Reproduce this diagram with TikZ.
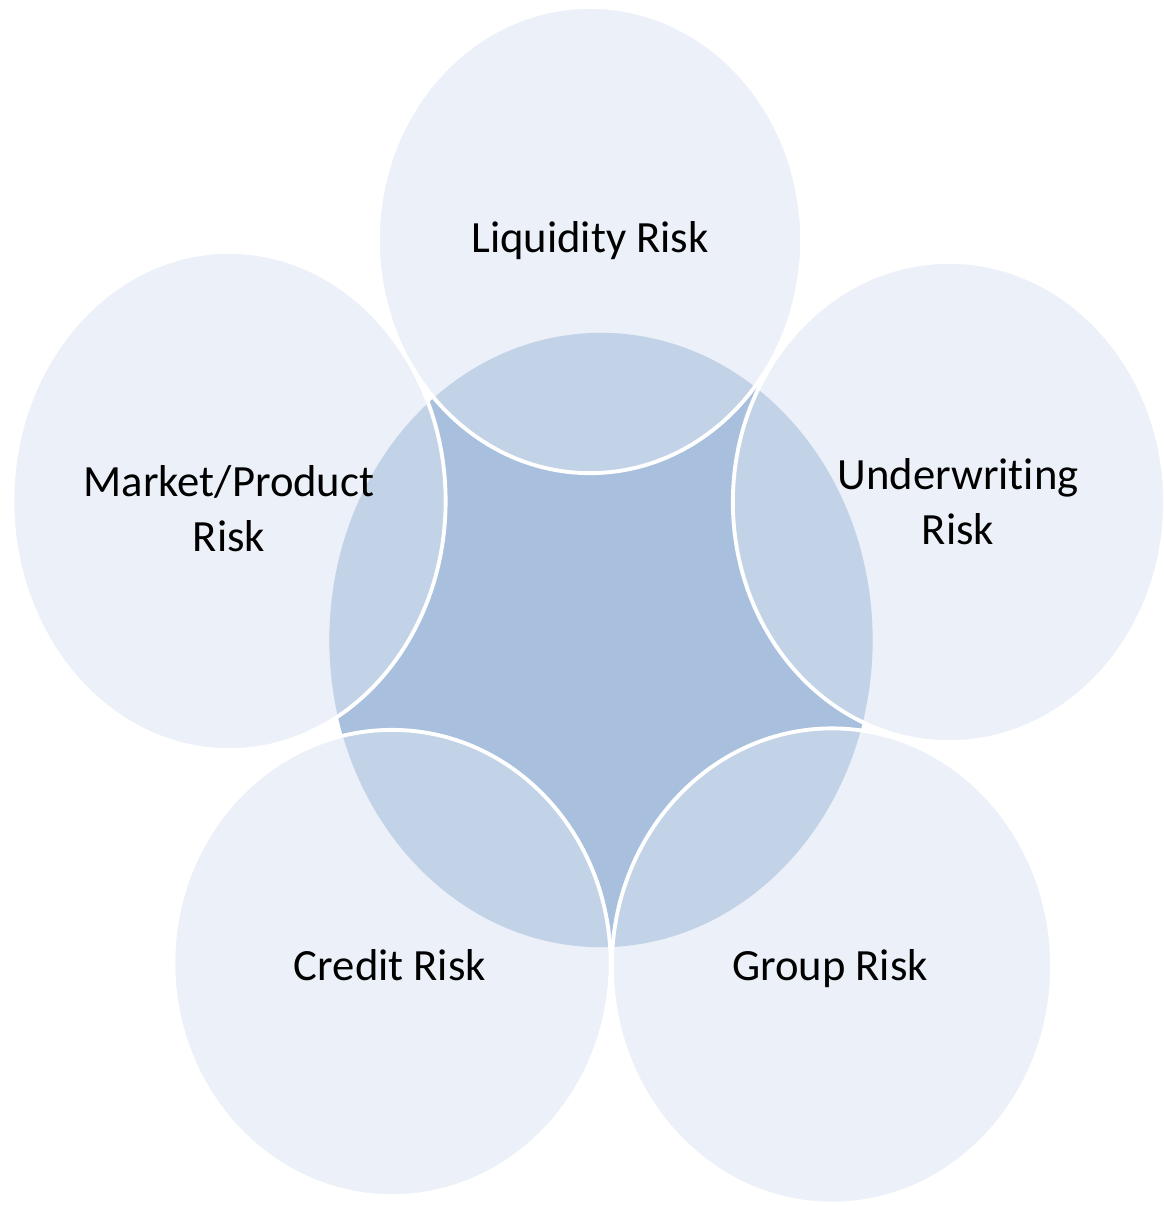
\documentclass[tikz,border=0pt]{standalone}
\usepackage{fontspec}
\setmainfont{Carlito}[Ligatures=NoCommon]
\usetikzlibrary{shapes.geometric}

\definecolor{riskfill}{RGB}{218,227,241}
\definecolor{corefill}{RGB}{168,192,221}

\tikzset{
    core/.style={ellipse,fill=corefill,inner sep=0pt},
    risk/.style={ellipse,fill=riskfill,fill opacity=0.52,
        draw=white,line width=1.1pt,inner sep=0pt},
    risktext/.style={align=center,inner sep=0pt,
        font=\fontsize{12.7}{15.6}\selectfont}
}

\begin{document}
\begin{tikzpicture}[x=0.01cm,y=-0.01cm]
    \useasboundingbox (0,0) rectangle (1164,1205);
    % centre ellipse, overlapped by the five risk areas
    \node[core,minimum width=5.43cm,minimum height=6.14cm] (centre) at (601,640) {};
    \node[risk,minimum width=4.24cm,minimum height=4.66cm] (liquidity) at (590,240) {};
    \node[risk,minimum width=4.33cm,minimum height=4.98cm] (market) at (229,501) {};
    \node[risk,minimum width=4.32cm,minimum height=4.80cm] (underwriting) at (949,502) {};
    \node[risk,minimum width=4.37cm,minimum height=4.66cm] (credit) at (392,963) {};
    \node[risk,minimum width=4.40cm,minimum height=4.75cm] (group) at (832,966) {};
    % labels
    \node[risktext] (liquidity text) at ([shift={(0,1)}]liquidity) {Liquidity Risk};
    \node[risktext] (market text) at ([shift={(0,8)}]market) {Market/Product\\Risk};
    \node[risktext] (underwriting text) at ([shift={(9,0)}]underwriting) {Underwriting\\Risk};
    \node[risktext] (credit text) at ([shift={(-2,2)}]credit) {Credit Risk};
    \node[risktext] (group text) at ([shift={(-2,3)}]group) {Group Risk};
\end{tikzpicture}
\end{document}
